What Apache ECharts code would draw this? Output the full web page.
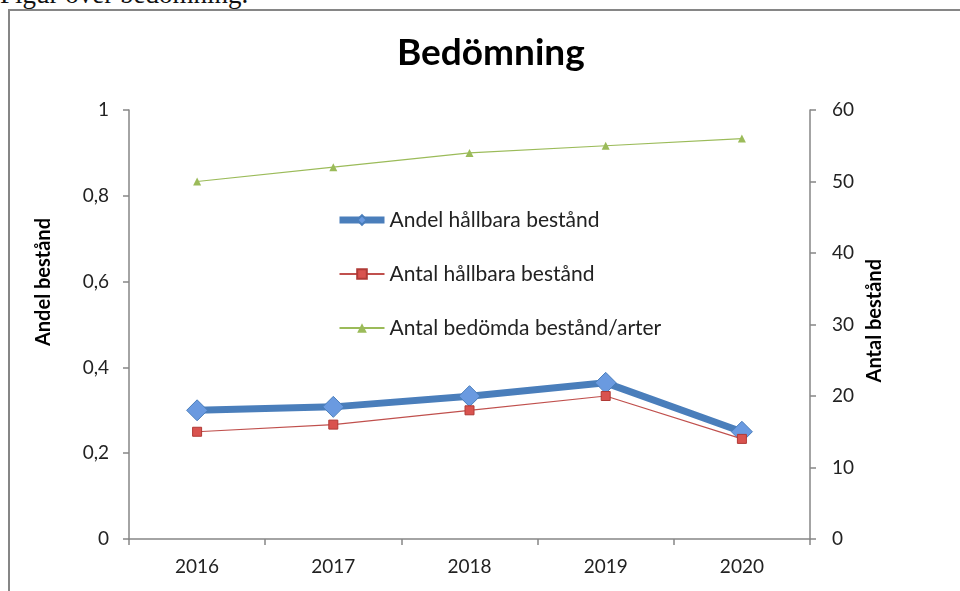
<!doctype html>
<html lang="sv">
<head>
<meta charset="utf-8" />
<script src="https://cdn.jsdelivr.net/npm/echarts@6/dist/echarts.min.js"></script>
<style>
  html, body { margin: 0; padding: 0; background: #fff; }
  #caption { position: absolute; left: 0; top: -21px; font-family: "Liberation Serif", "DejaVu Serif", serif; font-size: 27px; color: #111; white-space: nowrap; }
  #frame { position: absolute; left: 8px; top: 9px; width: 1000px; height: 700px; border-left: 2px solid #868686; border-top: 2px solid #868686; }
  #chart { position: absolute; left: 0; top: 0; width: 960px; height: 591px; }
</style>
</head>
<body>
<div id="caption">Figur över bedömning.</div>
<div id="frame"></div>
<div id="chart"></div>
<script>
const FONT = "Lato, 'Open Sans', 'Noto Sans', sans-serif";
const years = ["2016", "2017", "2018", "2019", "2020"];
const antalHallbara = [15, 16, 18, 20, 14];
const antalBedomda = [50, 52, 54, 55, 56];
const andelHallbara = [0.3, 0.308, 0.333, 0.364, 0.25];
const leftTicks = [0, 0.2, 0.4, 0.6, 0.8, 1];
const rightTicks = [0, 10, 20, 30, 40, 50, 60];

const axisGray = "#868686";
const chart = echarts.init(document.getElementById("chart"), null, { renderer: "canvas" });

chart.setOption({
  animation: false,
  title: {
    text: "Bedömning",
    left: 392,
    top: 30,
    textStyle: { fontFamily: FONT, fontSize: 37, fontWeight: "bold", color: "#000" },
  },
  legend: {
    orient: "vertical",
    left: 331,
    top: 204,
    itemGap: 32,
    itemWidth: 45,
    itemHeight: 12,
    textStyle: { fontFamily: FONT, fontSize: 21, lineHeight: 22, color: "#222" },
    data: [
      { name: "Andel hållbara bestånd", lineStyle: { width: 7 } },
      { name: "Antal hållbara bestånd" },
      { name: "Antal bedömda bestånd/arter" },
    ],
  },
  grid: { left: 129, right: 150, top: 110, bottom: 52 },
  xAxis: {
    type: "category",
    data: years,
    boundaryGap: true,
    axisLine: { lineStyle: { color: axisGray, width: 1.5 } },
    axisTick: { show: true, length: 6, alignWithLabel: false, lineStyle: { color: axisGray, width: 1.5 } },
    axisLabel: { fontFamily: FONT, fontSize: 19, color: "#222", margin: 18 },
  },
  yAxis: [
    {
      type: "value",
      min: 0,
      max: 1,
      interval: 0.2,
      axisLine: { show: true, lineStyle: { color: axisGray, width: 1.5 } },
      axisTick: { show: true, length: 6, lineStyle: { color: axisGray, width: 1.5 } },
      splitLine: { show: false },
      axisLabel: {
        fontFamily: FONT, fontSize: 19, color: "#222", margin: 20,
        formatter: (v) => leftTicks.includes(+v.toFixed(1)) ? String(+v.toFixed(1)).replace(".", ",") : "",
      },
    },
    {
      type: "value",
      min: 0,
      max: 60,
      interval: 10,
      position: "right",
      axisLine: { show: true, lineStyle: { color: axisGray, width: 1.5 } },
      axisTick: { show: true, length: 6, lineStyle: { color: axisGray, width: 1.5 } },
      splitLine: { show: false },
      axisLabel: {
        fontFamily: FONT, fontSize: 19, color: "#222", margin: 22,
        formatter: (v) => rightTicks.includes(v) ? String(v) : "",
      },
    },
  ],
  graphic: [
    {
      type: "text", left: 34, top: 218, rotation: Math.PI / 2,
      style: { text: "Andel bestånd", font: "bold 20px " + FONT, fill: "#000" },
    },
    {
      type: "text", left: 865, top: 259, rotation: Math.PI / 2,
      style: { text: "Antal bestånd", font: "bold 20px " + FONT, fill: "#000" },
    },
  ],
  series: [
    {
      name: "Andel hållbara bestånd",
      type: "line",
      yAxisIndex: 0,
      data: andelHallbara,
      z: 3,
      symbol: "diamond",
      symbolSize: 21,
      lineStyle: { color: "#4a7ebb", width: 7 },
      itemStyle: { color: "#6a9ae0", borderColor: "#4a7ebb", borderWidth: 1 },
    },
    {
      name: "Antal hållbara bestånd",
      type: "line",
      yAxisIndex: 1,
      data: antalHallbara,
      z: 4,
      symbol: "rect",
      symbolSize: 9,
      lineStyle: { color: "#c0504d", width: 1.2 },
      itemStyle: { color: "#d9534f", borderColor: "#b03a36", borderWidth: 1 },
    },
    {
      name: "Antal bedömda bestånd/arter",
      type: "line",
      yAxisIndex: 1,
      data: antalBedomda,
      symbol: "triangle",
      symbolSize: 8,
      lineStyle: { color: "#9bbb59", width: 1.2 },
      itemStyle: { color: "#9bbb59" },
    },
  ],
});
</script>
</body>
</html>
